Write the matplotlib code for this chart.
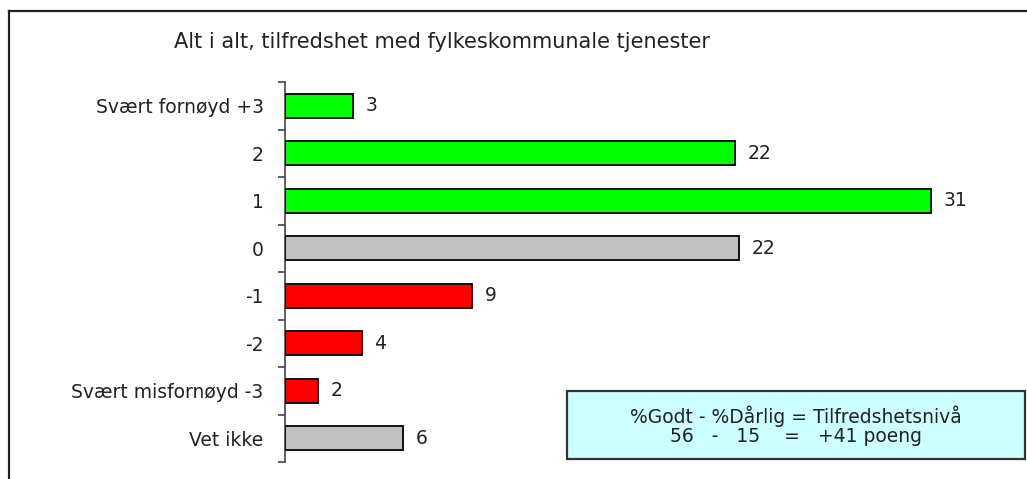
import matplotlib.pyplot as plt
import numpy as np
from matplotlib.patches import Rectangle
from matplotlib.lines import Line2D

categories = ['Svært fornøyd +3', '2', '1', '0', '-1', '-2', 'Svært misfornøyd -3', 'Vet ikke']
# bar lengths, labels are the printed rounded values
values = [3.3, 21.6, 31.0, 21.8, 9.0, 3.7, 1.6, 5.7]
labels = ['3', '22', '31', '22', '9', '4', '2', '6']
colors = ['#00ff00', '#00ff00', '#00ff00', '#c0c0c0', '#ff0000', '#ff0000', '#ff0000', '#c0c0c0']

title = 'Alt i alt, tilfredshet med fylkeskommunale tjenester'
box_lines = ['%Godt - %Dårlig = Tilfredshetsnivå', '56   -   15    =   +41 poeng']

W, H = 1027, 479
fig = plt.figure(figsize=(W / 100, H / 100), dpi=100)
ax = fig.add_axes([284.5 / W, 17 / H, 730 / W, 380 / H])

y = np.arange(len(categories))
ax.barh(y, values, height=0.5, color=colors, edgecolor='#111111', linewidth=1.4, zorder=3)
for yi, v, lab in zip(y, values, labels):
    ax.text(v + 0.6, yi, lab, va='center', ha='left', fontsize=13.5, color='#222222')

ax.set_xlim(0, 35)
ax.set_ylim(len(categories) - 0.5, -0.5)
ax.set_yticks(y)
ax.set_yticklabels(categories, fontsize=13.5, color='#222222')
ax.set_yticks(np.arange(-0.5, len(categories)), minor=True)
ax.tick_params(axis='y', which='major', length=0, pad=15)
ax.tick_params(axis='y', which='minor', length=5, width=1.2, color='#444444')
ax.set_xticks([])
for s in ['top', 'right', 'bottom']:
    ax.spines[s].set_visible(False)
ax.spines['left'].set_color('#444444')
ax.spines['left'].set_linewidth(1.2)

fig.text(442 / W, 1 - 42 / H, title, ha='center', va='center', fontsize=15, color='#222222')

# frame of the original picture
fig.add_artist(Line2D([9 / W, 1], [1 - 11 / H, 1 - 11 / H], color='#222222', lw=1.6))
fig.add_artist(Line2D([9 / W, 9 / W], [0, 1 - 11 / H], color='#222222', lw=1.6))

# info box
fig.add_artist(Rectangle((567 / W, 20 / H), 458 / W, 68 / H, transform=fig.transFigure,
                         facecolor='#ccffff', edgecolor='#333333', lw=1.6, zorder=5))
fig.text(796 / W, 1 - 416 / H, box_lines[0], ha='center', va='center', fontsize=13.5,
         color='#222222', zorder=6)
fig.text(796 / W, 1 - 437 / H, box_lines[1], ha='center', va='center', fontsize=13.5,
         color='#222222', zorder=6)

fig.savefig('out.png', dpi=100)
